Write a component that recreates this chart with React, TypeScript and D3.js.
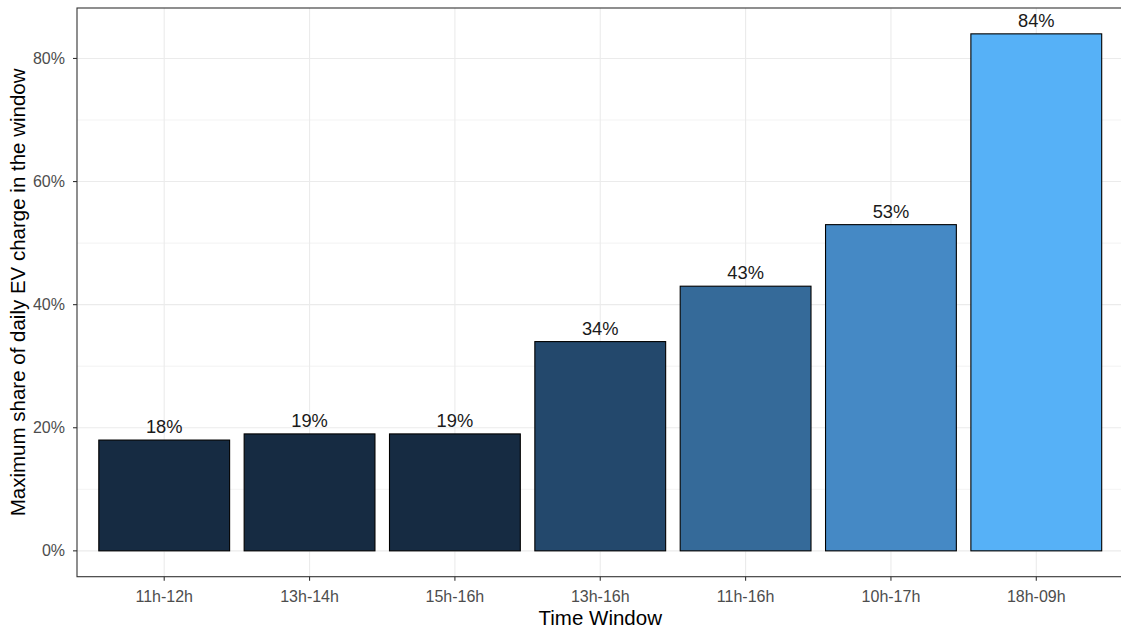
import React from "react";
import * as d3 from "d3";

const categories = ["11h-12h", "13h-14h", "15h-16h", "13h-16h", "11h-16h", "10h-17h", "18h-09h"];
const values = [18, 19, 19, 34, 43, 53, 84];
const yTicks = [0, 20, 40, 60, 80];
const yMinor = [10, 30, 50, 70];

// fill colours (value -> colour stops)
const fillStops = [18, 19, 34, 43, 53, 84];
const fillColors = ["#162b42", "#162b42", "#23486c", "#356a99", "#4589c5", "#56B1F7"];

const W = 1121;
const H = 630;
const panel = { left: 77, right: 1123.5, top: 8, bottom: 576.7 };

export default function App() {
  const n = categories.length;
  const step = (panel.right - panel.left) / (n - 1 + 1.2);
  const xPos = d3
    .scaleLinear()
    .domain([-0.6, n - 1 + 0.6])
    .range([panel.left, panel.right]);
  const maxV = d3.max(values)!;
  const y = d3
    .scaleLinear()
    .domain([-0.05 * maxV, maxV * 1.05])
    .range([panel.bottom, panel.top]);
  const color = d3
    .scaleLinear<string>()
    .domain(fillStops)
    .range(fillColors)
    .interpolate(d3.interpolateLab);
  const bw = step * 0.9;

  return (
    <svg
      width={W}
      height={H}
      style={{ position: "absolute", left: 0, top: 0, fontFamily: "'Liberation Sans', Arial, sans-serif" }}
    >
      <rect x={0} y={0} width={W} height={H} fill="#fff" />
      <defs>
        <clipPath id="pc">
          <rect x={panel.left} y={panel.top} width={panel.right - panel.left} height={panel.bottom - panel.top} />
        </clipPath>
      </defs>
      <g clipPath="url(#pc)">
        {yMinor.map((t) => (
          <line key={"mi" + t} x1={panel.left} x2={panel.right} y1={y(t)} y2={y(t)} stroke="#EBEBEB" strokeWidth={0.6} />
        ))}
        {yTicks.map((t) => (
          <line key={"ma" + t} x1={panel.left} x2={panel.right} y1={y(t)} y2={y(t)} stroke="#EBEBEB" strokeWidth={1.1} />
        ))}
        {categories.map((c, i) => (
          <line key={"vx" + c} x1={xPos(i)} x2={xPos(i)} y1={panel.top} y2={panel.bottom} stroke="#EBEBEB" strokeWidth={1.1} />
        ))}
        {values.map((v, i) => (
          <rect
            key={"b" + i}
            x={xPos(i) - bw / 2}
            y={y(v)}
            width={bw}
            height={y(0) - y(v)}
            fill={color(v)}
            stroke="#000"
            strokeWidth={1.1}
          />
        ))}
        {values.map((v, i) => (
          <text key={"l" + i} x={xPos(i)} y={y(v) - 7} textAnchor="middle" fontSize={18.3} fill="#1a1a1a">
            {v + "%"}
          </text>
        ))}
      </g>
      <rect
        x={panel.left}
        y={panel.top}
        width={panel.right - panel.left}
        height={panel.bottom - panel.top}
        fill="none"
        stroke="#333333"
        strokeWidth={1.1}
      />
      {yTicks.map((t) => (
        <g key={"yt" + t}>
          <line x1={panel.left - 4} x2={panel.left} y1={y(t)} y2={y(t)} stroke="#333333" strokeWidth={1.1} />
          <text x={65} y={y(t)} dy="0.35em" textAnchor="end" fontSize={16} fill="#4D4D4D">
            {t + "%"}
          </text>
        </g>
      ))}
      {categories.map((c, i) => (
        <g key={"xt" + c}>
          <line x1={xPos(i)} x2={xPos(i)} y1={panel.bottom} y2={panel.bottom + 4} stroke="#333333" strokeWidth={1.1} />
          <text x={xPos(i)} y={601.5} textAnchor="middle" fontSize={16} fill="#4D4D4D">
            {c}
          </text>
        </g>
      ))}
      <text x={(panel.left + panel.right) / 2} y={624.5} textAnchor="middle" fontSize={20.5} fill="#000">
        Time Window
      </text>
      <text
        transform={`translate(24.5, ${(panel.top + panel.bottom) / 2}) rotate(-90)`}
        textAnchor="middle"
        fontSize={20.5}
        fill="#000"
      >
        Maximum share of daily EV charge in the window
      </text>
    </svg>
  );
}
